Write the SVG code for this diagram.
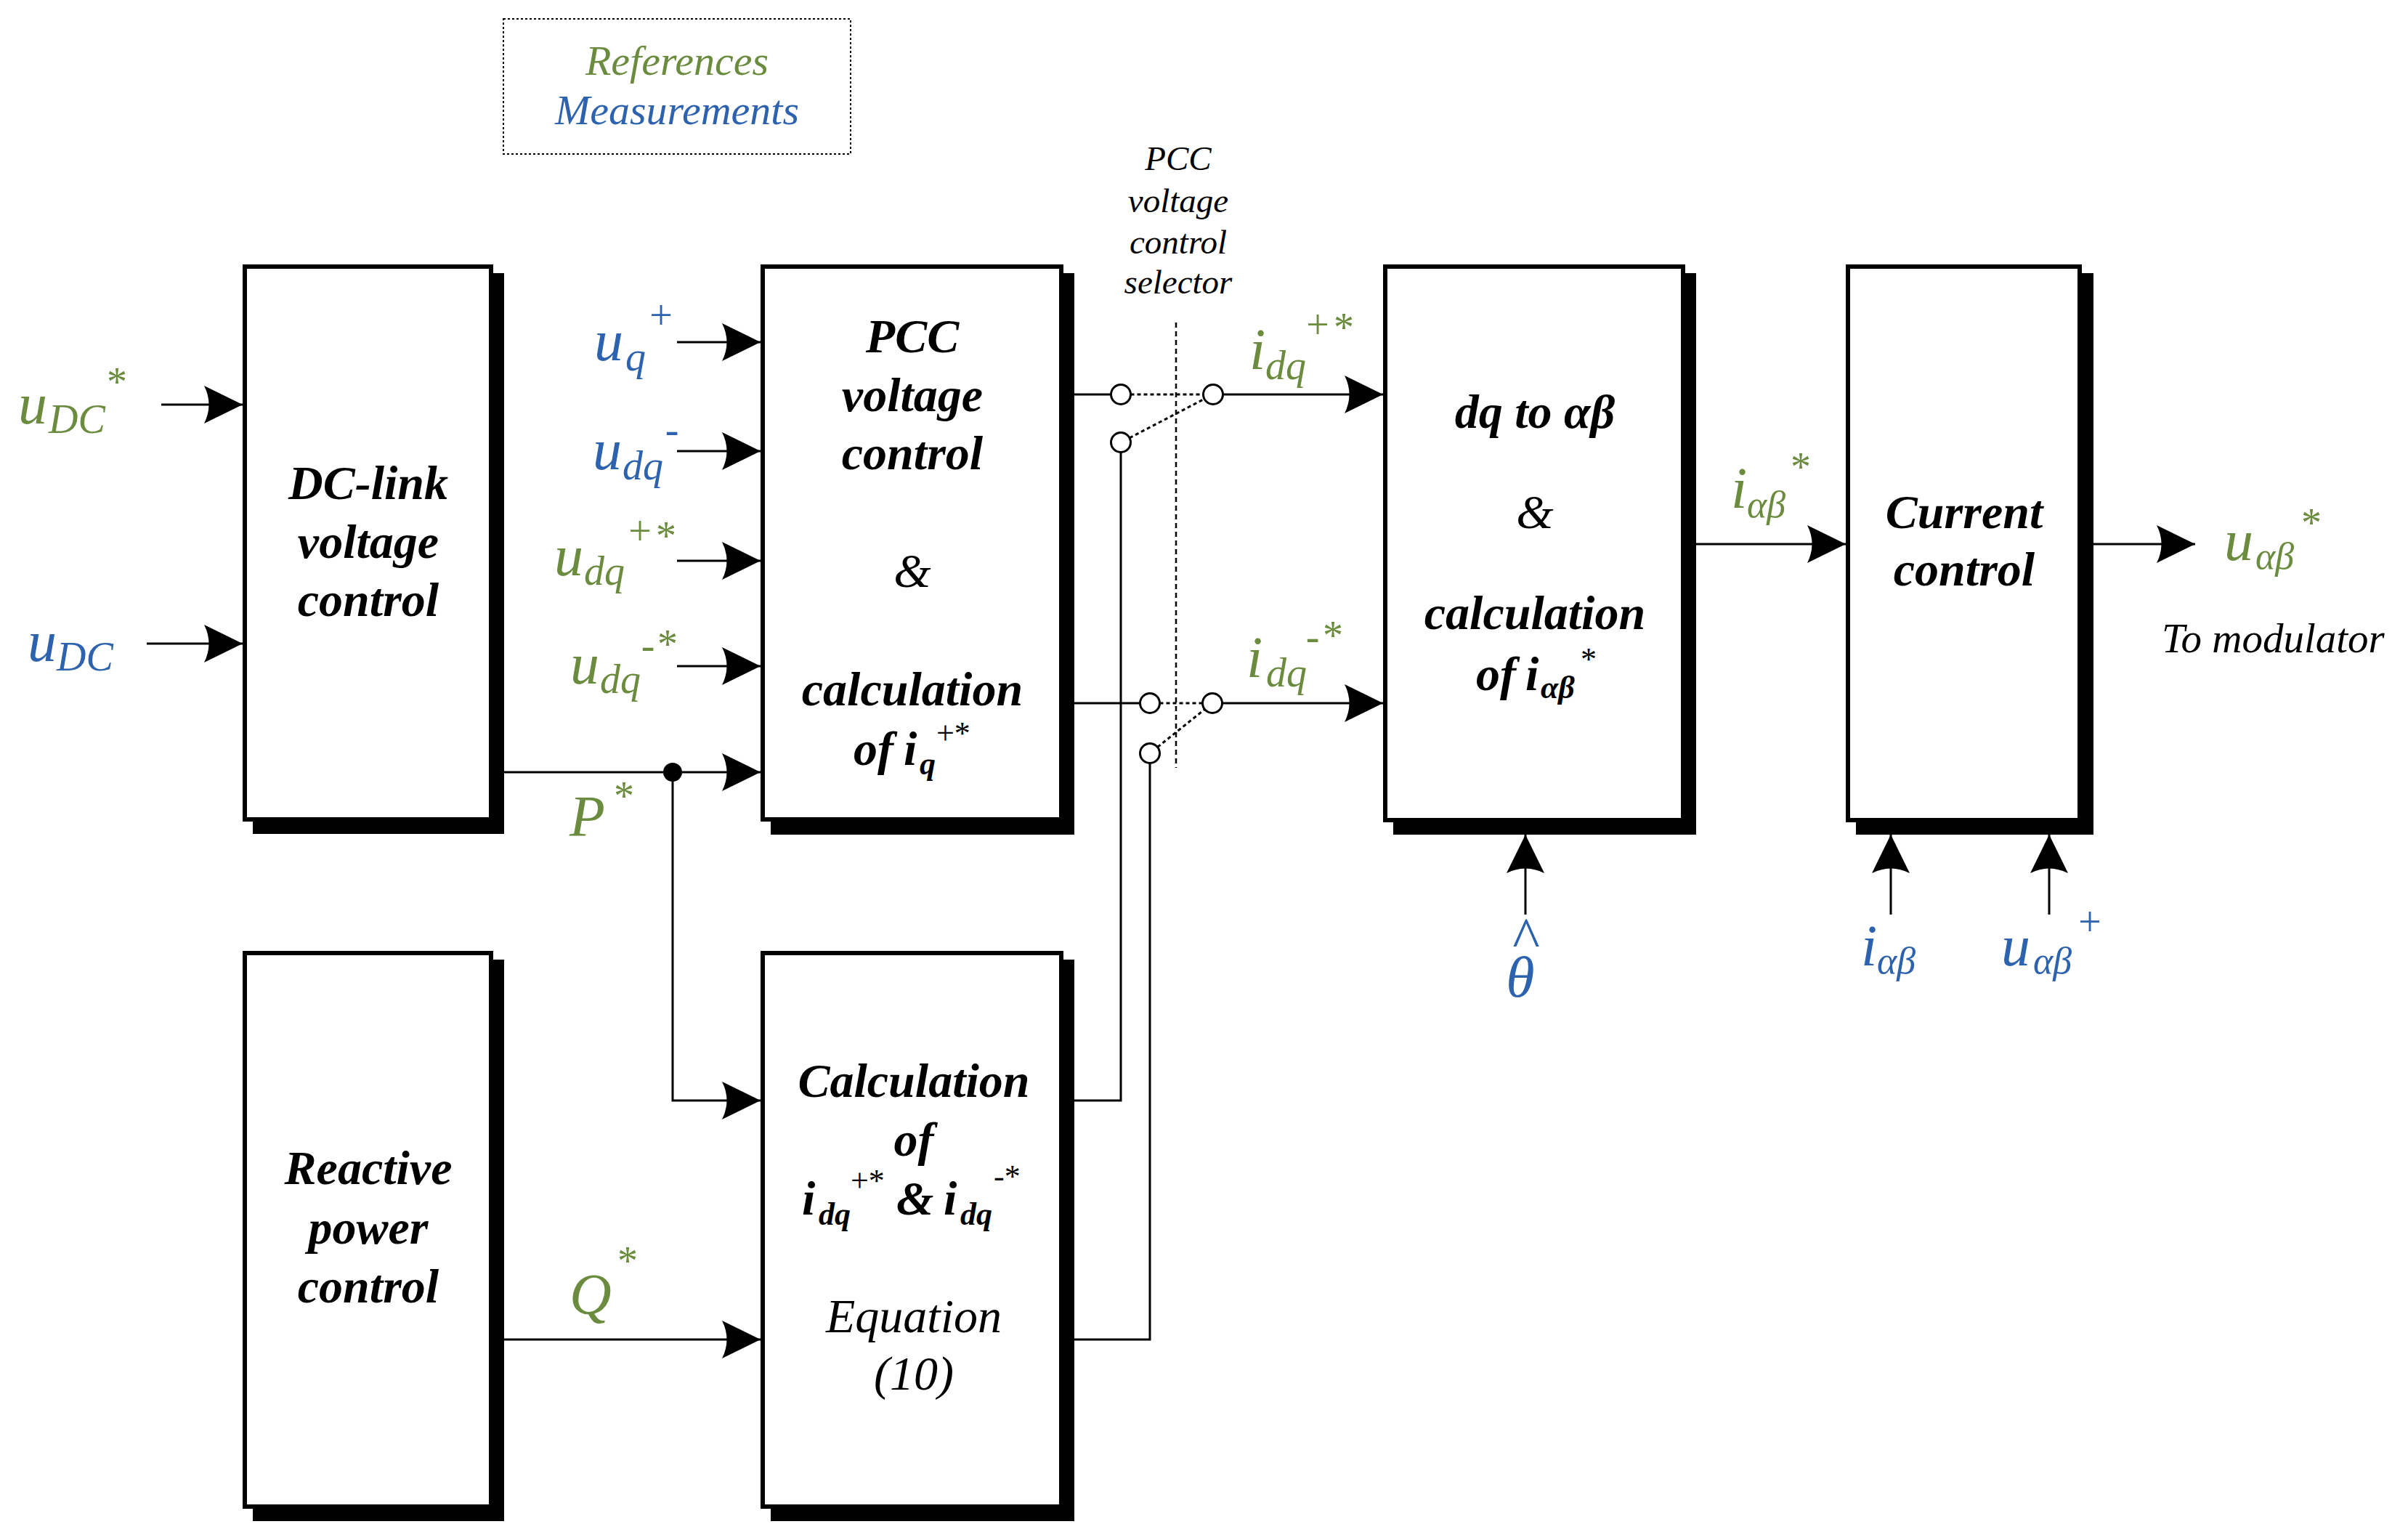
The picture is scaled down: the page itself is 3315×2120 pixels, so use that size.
<svg xmlns="http://www.w3.org/2000/svg" width="3315" height="2120" viewBox="0 0 3315 2120">
<style>
.box{fill:#fff;stroke:#000;stroke-width:6}
.shd{fill:#000}
.wire{fill:none;stroke:#000;stroke-width:3}
.arr{marker-end:url(#ah)}
.dash{fill:none;stroke:#000;stroke-width:3;stroke-dasharray:5 4}
.sw{fill:#fff;stroke:#000;stroke-width:3}
text{font-family:"Liberation Serif","Times New Roman",serif}
.bi{font-weight:bold;font-style:italic;font-size:66px;fill:#000}
.ri{font-style:italic;font-size:66px;fill:#000}
.amp{font-style:italic;font-size:66px;fill:#000}
.m{font-style:italic;font-size:80px}
.s{font-style:italic;font-size:56px}
.sup{font-size:56px}
.g{fill:#6B8C3E}
.b{fill:#2D62AE}
.c{text-anchor:middle}
</style>
<defs>
<marker id="ah" viewBox="-56 -28 58 56" refX="0" refY="0" markerWidth="58" markerHeight="56" markerUnits="userSpaceOnUse" orient="auto">
<path d="M0,0 L-53,-26 Q-40,0 -53,26 Z" fill="#000"/>
</marker>
</defs>
<rect width="3315" height="2120" fill="#fff"/>

<g id="legend">
<rect x="693" y="26" width="478" height="186" fill="none" stroke="#000" stroke-width="2" stroke-dasharray="3 3"/>
<text x="932" y="103" class="c g" font-style="italic" font-size="58">References</text>
<text x="932" y="171" class="c b" font-style="italic" font-size="58">Measurements</text>
</g>

<g id="selector-label">
<text class="c" font-style="italic" font-size="47" x="1622" y="234">PCC</text>
<text class="c" font-style="italic" font-size="47" x="1622" y="292">voltage</text>
<text class="c" font-style="italic" font-size="47" x="1622" y="349">control</text>
<text class="c" font-style="italic" font-size="47" x="1622" y="404">selector</text>
</g>

<g id="dc-link">
<rect class="shd" x="348" y="376" width="346" height="772"/>
<rect class="box" x="337" y="367" width="339" height="761"/>
<text class="bi c" x="507" y="687">DC-link</text>
<text class="bi c" x="507" y="768">voltage</text>
<text class="bi c" x="507" y="848">control</text>
</g>

<g id="pcc">
<rect class="shd" x="1061" y="376" width="418" height="773"/>
<rect class="box" x="1050" y="367" width="411" height="761"/>
<text class="bi c" x="1256" y="485">PCC</text>
<text class="bi c" x="1256" y="566">voltage</text>
<text class="bi c" x="1256" y="646">control</text>
<text class="amp c" x="1256" y="808">&amp;</text>
<text class="bi c" x="1256" y="971">calculation</text>
<text class="bi" x="1175" y="1053">of</text>
<text class="bi" x="1244" y="1053">i</text>
<text font-weight="bold" font-style="italic" font-size="44" x="1266" y="1066">q</text>
<text font-size="44" x="1289" y="1024">+*</text>
</g>

<g id="dq-ab">
<rect class="shd" x="1918" y="376" width="417" height="773"/>
<rect class="box" x="1907" y="367" width="410" height="762"/>
<text class="bi c" x="2113" y="589">dq to αβ</text>
<text class="amp c" x="2113" y="727">&amp;</text>
<text class="bi c" x="2113" y="866">calculation</text>
<text class="bi" x="2032" y="950">of</text>
<text class="bi" x="2100" y="950">i</text>
<text font-weight="bold" font-style="italic" font-size="44" x="2121" y="961">αβ</text>
<text font-size="44" x="2176" y="922">*</text>
</g>

<g id="current">
<rect class="shd" x="2555" y="376" width="327" height="773"/>
<rect class="box" x="2544" y="367" width="319" height="762"/>
<text class="bi c" x="2704" y="727">Current</text>
<text class="bi c" x="2704" y="806">control</text>
</g>

<g id="reactive">
<rect class="shd" x="348" y="1321" width="346" height="773"/>
<rect class="box" x="337" y="1312" width="339" height="762"/>
<text class="bi c" x="507" y="1630">Reactive</text>
<text class="bi c" x="507" y="1712">power</text>
<text class="bi c" x="507" y="1793">control</text>
</g>

<g id="calc">
<rect class="shd" x="1061" y="1321" width="418" height="773"/>
<rect class="box" x="1050" y="1312" width="411" height="762"/>
<text class="bi c" x="1258" y="1510">Calculation</text>
<text class="bi c" x="1258" y="1591">of</text>
<text class="bi" x="1104" y="1672">i</text>
<text font-weight="bold" font-style="italic" font-size="44" x="1127" y="1686">dq</text>
<text font-size="44" x="1171" y="1640">+*</text>
<text class="bi" x="1234" y="1672">&amp;</text>
<text class="bi" x="1299" y="1672">i</text>
<text font-weight="bold" font-style="italic" font-size="44" x="1322" y="1686">dq</text>
<text font-size="44" x="1368" y="1634">-*</text>
<text class="ri c" x="1258" y="1834">Equation</text>
<text class="ri c" x="1258" y="1913">(10)</text>
</g>

<g id="connectors">
<path class="wire arr" d="M222,557 H334"/>
<path class="wire arr" d="M202,886 H334"/>
<path class="wire arr" d="M932,471 H1047"/>
<path class="wire arr" d="M932,621 H1047"/>
<path class="wire arr" d="M932,772 H1047"/>
<path class="wire arr" d="M932,917 H1047"/>
<path class="wire arr" d="M694,1063 H1047"/>
<path class="wire arr" d="M926,1063 V1515 H1047"/>
<path class="wire arr" d="M694,1844 H1047"/>
<path class="wire" d="M1479,543 H1529.5"/>
<path class="wire arr" d="M1683.5,543 H1904"/>
<path class="wire" d="M1479,968 H1569.5"/>
<path class="wire arr" d="M1682.5,968 H1904"/>
<path class="wire" d="M1479,1515 H1543 V622.5"/>
<path class="wire" d="M1479,1844 H1583 V1050.5"/>
<path class="wire arr" d="M2335,749 H2541"/>
<path class="wire arr" d="M2882,749 H3022"/>
<path class="wire arr" d="M2100,1259 V1149"/>
<path class="wire arr" d="M2603,1259 V1149"/>
<path class="wire arr" d="M2821,1259 V1149"/>
<path class="dash" d="M1556.5,543 H1656.5"/>
<path class="dash" d="M1555,602.8 L1658,549.2"/>
<path class="dash" d="M1596.5,968 H1655.5"/>
<path class="dash" d="M1593.5,1028.5 L1658.5,976.5"/>
<path fill="none" stroke="#000" stroke-width="2.5" stroke-dasharray="7 5" d="M1619,444 V1057"/>
<circle class="sw" cx="1543" cy="543" r="13.5"/>
<circle class="sw" cx="1670" cy="543" r="13.5"/>
<circle class="sw" cx="1543" cy="609" r="13.5"/>
<circle class="sw" cx="1583" cy="968" r="13.5"/>
<circle class="sw" cx="1669" cy="968" r="13.5"/>
<circle class="sw" cx="1583" cy="1037" r="13.5"/>
<circle cx="926" cy="1063" r="13" fill="#000"/>
</g>

<g id="labels">
<text class="m g" x="25" y="583">u</text>
<text class="s g" x="67" y="596">DC</text>
<text class="sup g c" x="161" y="545">*</text>

<text class="m b" x="38" y="910">u</text>
<text class="s b" x="78" y="923">DC</text>

<text class="m b" x="818" y="496">u</text>
<text class="s b" x="861" y="510">q</text>
<text class="sup b c" x="910" y="453">+</text>

<text class="m b" x="816" y="646">u</text>
<text class="s b" x="857" y="660">dq</text>
<text class="sup b c" x="925" y="610">-</text>

<text class="m g" x="763" y="792">u</text>
<text class="s g" x="804" y="805">dq</text>
<text class="sup g c" x="881" y="750">+</text>
<text class="sup g c" x="917" y="757">*</text>

<text class="m g" x="785" y="941">u</text>
<text class="s g" x="826" y="954">dq</text>
<text class="sup g c" x="892" y="907">-</text>
<text class="sup g c" x="919" y="906">*</text>

<text class="m g" x="784" y="1151">P</text>
<text class="sup g c" x="859" y="1115">*</text>

<text class="m g" x="784" y="1809">Q</text>
<text class="sup g c" x="864" y="1755">*</text>

<text class="m g" x="1720" y="508">i</text>
<text class="s g" x="1742" y="522">dq</text>
<text class="sup g c" x="1814" y="466">+</text>
<text class="sup g c" x="1850" y="470">*</text>

<text class="m g" x="1716" y="932">i</text>
<text class="s g" x="1743" y="945">dq</text>
<text class="sup g c" x="1807" y="895">-</text>
<text class="sup g c" x="1835" y="894">*</text>

<text class="m g" x="2383" y="699">i</text>
<text class="g" font-style="italic" font-size="52" x="2405" y="712">αβ</text>
<text class="sup g c" x="2479" y="662">*</text>

<text class="m g" x="3062" y="771">u</text>
<text class="g" font-style="italic" font-size="52" x="3105" y="783">αβ</text>
<text class="sup g c" x="3182" y="739">*</text>
<text font-style="italic" font-size="57" x="2976" y="898">To modulator</text>

<text class="m b c" x="2093" y="1372">θ</text>
<text class="b c" font-size="80" x="2101" y="1318">^</text>

<text class="m b" x="2562" y="1329">i</text>
<text class="b" font-style="italic" font-size="52" x="2584" y="1340">αβ</text>

<text class="m b" x="2755" y="1329">u</text>
<text class="b" font-style="italic" font-size="52" x="2799" y="1340">αβ</text>
<text class="sup b c" x="2877" y="1288">+</text>
</g>
</svg>
